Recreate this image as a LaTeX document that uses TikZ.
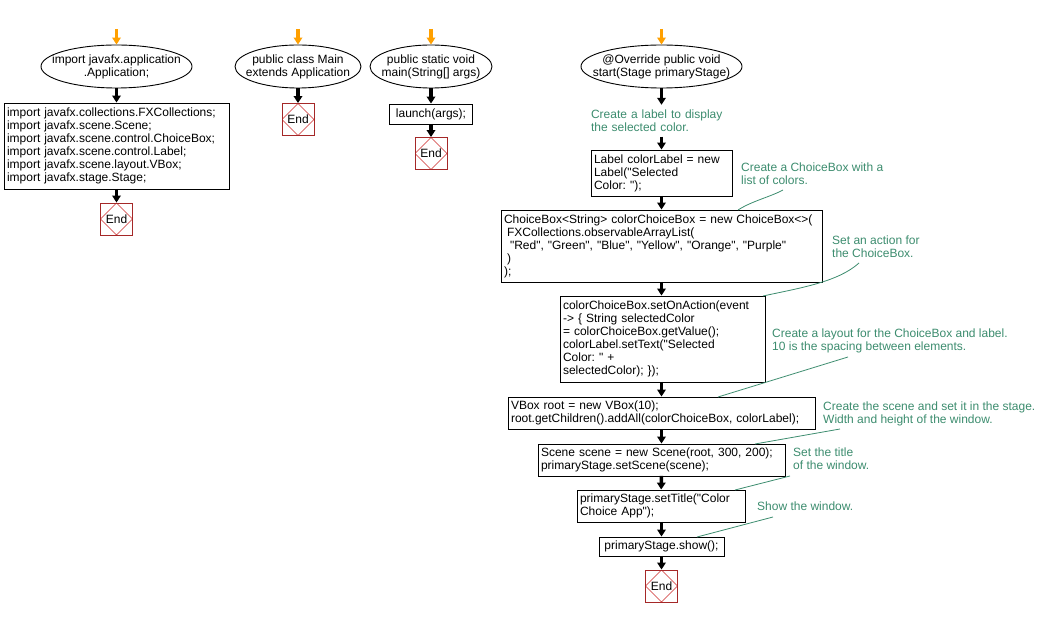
\documentclass[tikz,border=0pt]{standalone}
\usepackage{fontspec}
\setmainfont{Liberation Sans}[Ligatures=TeXOff]
\usetikzlibrary{shapes.geometric,arrows.meta,calc}
\definecolor{notegreen}{RGB}{60,140,110}
\definecolor{endred}{RGB}{165,40,40}
\definecolor{endred2}{RGB}{205,45,45}
\definecolor{startorange}{RGB}{255,160,0}
\begin{document}
\frenchspacing
\begin{tikzpicture}[x=1pt,y=-1pt,
  font=\fontsize{12}{13}\selectfont\frenchspacing,
  box/.style={draw, line width=0.9pt, align=left, inner xsep=3pt, inner ysep=0pt},
  term/.style={draw, ellipse, line width=0.9pt, inner sep=0pt},
  termtext/.style={align=center, inner sep=0pt},
  endnode/.style={draw=endred, line width=0.9pt, minimum width=32pt, minimum height=32pt, inner sep=0pt,
    path picture={\draw[endred2, line width=0.6pt] (path picture bounding box.north) -- (path picture bounding box.east) -- (path picture bounding box.south) -- (path picture bounding box.west) -- cycle;}},
  flowarrow/.style={line width=3.5pt, -{Triangle[length=7pt,width=8.5pt]}, shorten <=-0.5pt},
  startarrow/.style={draw=startorange, line width=3.5pt, -{Triangle[length=7pt,width=8.5pt,fill=startorange]}},
  note/.style={text=notegreen, align=left, inner sep=0pt, anchor=north west},
  noteline/.style={draw=notegreen, line width=0.8pt}]
\useasboundingbox (0,0) rectangle (1052,617);

% ---------- column 1
\coordinate (s1) at (116.5,29);
\node[term, minimum width=151pt, minimum height=43pt] (e1) at (116.5,66.5) {};
\node[termtext] (e1t) at (e1) {import javafx.application\\.Application;};
\node[box, text width=219pt, minimum height=86pt] (imp) at (116.5,146) {import javafx.collections.FXCollections;\\import javafx.scene.Scene;\\import javafx.scene.control.ChoiceBox;\\import javafx.scene.control.Label;\\import javafx.scene.layout.VBox;\\import javafx.stage.Stage;};
\node[endnode] (end1) at (116.5,219) {End};
\draw[startarrow] (s1) -- (e1);
\draw[flowarrow] (e1) -- (imp);
\draw[flowarrow] (imp) -- (end1);

% ---------- column 2
\coordinate (s2) at (298,29);
\node[term, minimum width=126pt, minimum height=43pt] (e2) at (298,66.5) {};
\node[termtext] (e2t) at (e2) {public class Main\\extends Application};
\node[endnode] (end2) at (298,119.5) {End};
\draw[startarrow] (s2) -- (e2);
\draw[flowarrow] (e2) -- (end2);

% ---------- column 3
\coordinate (s3) at (431,29);
\node[term, minimum width=122pt, minimum height=43pt] (e3) at (431,66.5) {};
\node[termtext] (e3t) at (e3) {public static void\\main(String[] args)};
\node[box, minimum width=83pt, minimum height=20pt] (launch) at (431,114) {launch(args);};
\node[endnode] (end3) at (431,153.5) {End};
\draw[startarrow] (s3) -- (e3);
\draw[flowarrow] (e3) -- (launch);
\draw[flowarrow] (launch) -- (end3);

% ---------- column 4
\coordinate (s4) at (661.5,29);
\node[term, minimum width=161pt, minimum height=43pt] (e4) at (661.5,66.5) {};
\node[termtext] (e4t) at (e4) {@Override public void\\start(Stage primaryStage)};
\node[note, anchor=center, text width=141pt, minimum height=32pt] (c1) at (661.5,121) {Create a label to display\\the selected color.};
\node[box, text width=135pt, minimum height=46pt] (label) at (661.5,173) {Label colorLabel = new\\Label("Selected\\Color: ");};
\node[box, text width=315pt, minimum height=72pt] (choice) at (661.5,246) {ChoiceBox<String> colorChoiceBox = new ChoiceBox<>(\\\hspace*{3pt}FXCollections.observableArrayList(\\\hspace*{6pt}"Red", "Green", "Blue", "Yellow", "Orange", "Purple"\\\hspace*{3pt})\\);};
\node[box, text width=199pt, minimum height=86pt] (action) at (662.5,339) {colorChoiceBox.setOnAction(event\\-> \{ String selectedColor\\= colorChoiceBox.getValue();\\colorLabel.setText("Selected\\Color: " +\\selectedColor); \});};
\node[box, text width=301pt, minimum height=32pt] (vbox) at (661.5,413) {VBox root = new VBox(10);\\root.getChildren().addAll(colorChoiceBox, colorLabel);};
\node[box, text width=241pt, minimum height=32pt] (scene) at (661.5,460) {Scene scene = new Scene(root, 300, 200);\\primaryStage.setScene(scene);};
\node[box, text width=162pt, minimum height=32pt] (title) at (661,506) {primaryStage.setTitle("Color\\Choice App");};
\node[box, minimum width=125pt, minimum height=19pt] (show) at (661.5,546.5) {primaryStage.show();};
\node[endnode] (end4) at (661.5,586) {End};

\draw[startarrow] (s4) -- (e4);
\draw[flowarrow] (e4) -- (c1);
\draw[flowarrow] (c1) -- (label);
\draw[flowarrow] (label) -- (choice);
\draw[flowarrow] (choice.south -| 661.5,0) -- (action.north -| 661.5,0);
\draw[flowarrow] (action.south -| 661.5,0) -- (vbox.north -| 661.5,0);
\draw[flowarrow] (vbox) -- (scene);
\draw[flowarrow] (scene) -- (title);
\draw[flowarrow] (title.south -| 661.5,0) -- (show.north -| 661.5,0);
\draw[flowarrow] (show) -- (end4);

% ---------- notes
\node[note] (c2) at (741,162.5) {Create a ChoiceBox with a\\list of colors.};
\node[note] (c3) at (832,236) {Set an action for\\the ChoiceBox.};
\node[note] (c4) at (772,329) {Create a layout for the ChoiceBox and label.\\10 is the spacing between elements.};
\node[note] (c5) at (823,402) {Create the scene and set it in the stage.\\Width and height of the window.};
\node[note] (c6) at (793,448) {Set the title\\of the window.};
\node[note] (c7) at (757,502) {Show the window.};

\coordinate (l2a) at (738,210);  \coordinate (l2b) at (783,190);
\coordinate (l3a) at (763,296);  \coordinate (l3b) at (859,263);
\coordinate (l4a) at (718,397);  \coordinate (l4b) at (848,357);
\coordinate (l5a) at (755,444);  \coordinate (l5b) at (840,429);
\coordinate (l6a) at (735,490);  \coordinate (l6b) at (790,476);
\coordinate (l7a) at (697,537);  \coordinate (l7b) at (773,517);
\draw[noteline] (l2a) .. controls (752,201) and (770,197) .. (l2b);
\draw[noteline] (l3a) .. controls (800,288) and (838,282) .. (l3b);
\draw[noteline] (l4a) -- (l4b);
\draw[noteline] (l5a) -- (l5b);
\draw[noteline] (l6a) -- (l6b);
\draw[noteline] (l7a) -- (l7b);
\end{tikzpicture}
\end{document}
